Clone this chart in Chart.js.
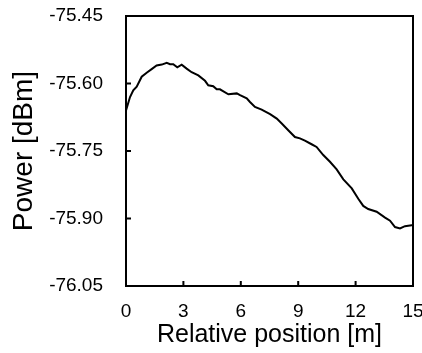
<!DOCTYPE html>
<html>
<head>
<meta charset="utf-8">
<script src="https://cdn.jsdelivr.net/npm/chart.js@4"></script>
<style>
  body { margin: 0; background: #fff; }
  #wrap { width: 422px; height: 353px; position: relative; }
</style>
</head>
<body>
<div id="wrap"><canvas id="chart"></canvas></div>
<script>
const positions = [0, 0.21, 0.38, 0.56, 0.82, 1.08, 1.34, 1.60, 1.87, 2.13, 2.30, 2.47, 2.68, 2.91,
  3.17, 3.43, 3.78, 4.13, 4.30, 4.56, 4.74, 4.91, 5.35, 5.79, 5.96, 6.31, 6.48, 6.74, 7.09, 7.53,
  7.88, 8.14, 8.48, 8.83, 9.09, 9.35, 9.70, 9.96, 10.31, 10.66, 11.01, 11.36, 11.80, 12.14, 12.40,
  12.66, 13.10, 13.54, 13.80, 14.06, 14.32, 14.58, 14.93, 15.00];
const power = [-75.660, -75.630, -75.615, -75.607, -75.585, -75.576, -75.568, -75.560, -75.558,
  -75.554, -75.557, -75.557, -75.564, -75.558, -75.567, -75.575, -75.582, -75.594, -75.604,
  -75.606, -75.613, -75.613, -75.624, -75.622, -75.626, -75.633, -75.641, -75.652, -75.658,
  -75.668, -75.678, -75.689, -75.704, -75.719, -75.722, -75.727, -75.735, -75.741, -75.759,
  -75.774, -75.791, -75.813, -75.833, -75.856, -75.872, -75.879, -75.885, -75.898, -75.905,
  -75.919, -75.922, -75.917, -75.915, -75.915];
const xTicks = [0, 3, 6, 9, 12, 15];
const yTicks = [-76.05, -75.90, -75.75, -75.60, -75.45];

const font = "Arial, 'Liberation Sans', sans-serif";

// box round the plot plus the small inward tick marks
const frame = {
  id: "frame",
  afterDatasetsDraw(c) {
    const { ctx, chartArea: a, scales } = c;
    ctx.save();
    ctx.strokeStyle = "#000";
    ctx.lineWidth = 2;
    ctx.strokeRect(a.left, a.top, a.right - a.left, a.bottom - a.top);
    ctx.beginPath();
    scales.x.ticks.forEach(t => {
      const px = scales.x.getPixelForValue(t.value);
      ctx.moveTo(px, a.bottom);
      ctx.lineTo(px, a.bottom - 5);
    });
    scales.y.ticks.forEach(t => {
      const py = scales.y.getPixelForValue(t.value);
      ctx.moveTo(a.left, py);
      ctx.lineTo(a.left + 5, py);
    });
    ctx.stroke();
    ctx.restore();
  }
};

new Chart(document.getElementById("chart"), {
  type: "line",
  data: {
    datasets: [{
      data: positions.map((x, i) => ({ x, y: power[i] })),
      borderColor: "#000",
      borderWidth: 2,
      pointRadius: 0,
      tension: 0
    }]
  },
  options: {
    responsive: true,
    maintainAspectRatio: false,
    animation: false,
    layout: { padding: { top: 16, right: 9, left: 0, bottom: 0 } },
    plugins: { legend: { display: false }, tooltip: { enabled: false } },
    scales: {
      x: {
        type: "linear",
        min: 0,
        max: 15,
        afterBuildTicks: s => { s.ticks = xTicks.map(v => ({ value: v })); },
        afterFit: s => { s.height = 67; s.paddingLeft = 0; s.paddingRight = 0; },
        grid: { display: false, drawTicks: false },
        border: { display: false },
        ticks: { color: "#000", padding: 14, font: { family: font, size: 19 }, maxRotation: 0 },
        title: {
          display: true,
          text: "Relative position [m]",
          color: "#000",
          font: { family: font, size: 25 },
          padding: { top: 0, bottom: 3 }
        }
      },
      y: {
        min: -76.05,
        max: -75.45,
        afterBuildTicks: s => { s.ticks = yTicks.map(v => ({ value: v })); },
        afterFit: s => { s.width = 126; s.paddingTop = 0; s.paddingBottom = 0; },
        grid: { display: false, drawTicks: false },
        border: { display: false },
        ticks: {
          color: "#000",
          padding: 23,
          font: { family: font, size: 19 },
          callback: v => Number(v).toFixed(2)
        },
        title: {
          display: true,
          text: "Power [dBm]",
          color: "#000",
          font: { family: font, size: 28 },
          padding: { top: 7, bottom: 0 }
        }
      }
    }
  },
  plugins: [frame]
});
</script>
</body>
</html>
